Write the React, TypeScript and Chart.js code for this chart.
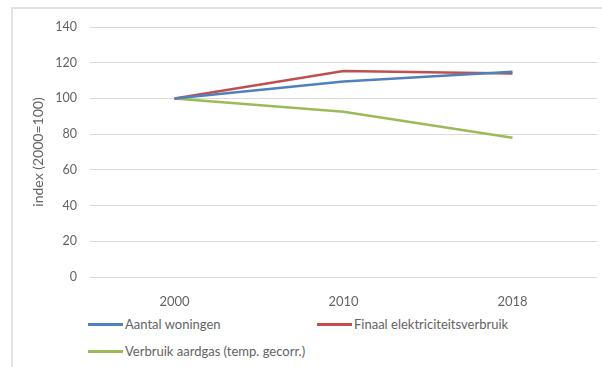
import React, { useEffect, useRef } from "react";
import { Chart, registerables } from "chart.js";

Chart.register(...registerables);

const categories = ["2000", "2010", "2018"];
const aantalWoningen = [100, 109.5, 115];
const finaalElektriciteit = [100, 115.3, 114];
const verbruikAardgas = [100, 92.5, 78];
const yTicks = [0, 20, 40, 60, 80, 100, 120, 140];

const seriesNames = [
  "Aantal woningen",
  "Finaal elektriciteitsverbruik",
  "Verbruik aardgas (temp. gecorr.)",
];
const seriesColors = ["#4F81BD", "#C0504D", "#9BBB59"];

const FONT = "Lato, 'Open Sans', sans-serif";
const TEXT = "#636363";

export default function App() {
  const ref = useRef<HTMLCanvasElement | null>(null);

  useEffect(() => {
    if (!ref.current) return;
    const chart = new Chart(ref.current, {
      type: "line",
      data: {
        labels: categories,
        datasets: [aantalWoningen, finaalElektriciteit, verbruikAardgas].map((d, i) => ({
          label: seriesNames[i],
          data: d,
          borderColor: seriesColors[i],
          backgroundColor: seriesColors[i],
          borderWidth: 2.5,
          pointRadius: 0,
          tension: 0,
          fill: false,
        })),
      },
      options: {
        animation: false,
        responsive: false,
        maintainAspectRatio: false,
        layout: { padding: { left: 27, right: 5, top: 27, bottom: 0 } },
        plugins: { legend: { display: false }, tooltip: { enabled: false } },
        scales: {
          x: {
            offset: true,
            grid: { display: false },
            border: { display: false },
            ticks: { color: TEXT, font: { family: FONT, size: 13 }, padding: 9 },
            afterFit: (s: any) => {
              s.height = 30;
            },
          },
          y: {
            min: 0,
            max: 140,
            afterBuildTicks: (s: any) => {
              s.ticks = yTicks.map((v) => ({ value: v }));
            },
            grid: { color: "#d9d9d9", lineWidth: 1, drawTicks: false },
            border: { display: false },
            ticks: { color: TEXT, font: { family: FONT, size: 12.5 }, padding: 13 },
            title: {
              display: true,
              text: "index (2000=100)",
              color: TEXT,
              font: { family: FONT, size: 14 },
              padding: { top: 3, bottom: 4 },
            },
            afterFit: (s: any) => {
              s.width = 63;
            },
          },
        },
      },
    });
    return () => chart.destroy();
  }, []);

  const legendItem = (i: number, left: number, top: number) => (
    <div
      key={i}
      style={{
        position: "absolute",
        left,
        top,
        display: "flex",
        alignItems: "center",
        fontFamily: FONT,
        fontSize: 13,
        color: TEXT,
        whiteSpace: "nowrap",
      }}
    >
      <span
        style={{
          display: "inline-block",
          width: 35,
          height: 3,
          background: seriesColors[i],
          marginRight: 2,
        }}
      />
      <span>{seriesNames[i]}</span>
    </div>
  );

  return (
    <div
      style={{
        position: "fixed",
        left: 0,
        top: 0,
        width: 602,
        height: 367,
        background: "#fff",
        overflow: "hidden",
      }}
    >
      <div
        style={{
          position: "absolute",
          left: 11,
          top: 7,
          width: 620,
          height: 400,
          borderTop: "2px solid #e2e2e2",
          borderLeft: "2px solid #e2e2e2",
        }}
      />
      <canvas
        ref={ref}
        width={602}
        height={307}
        style={{ position: "absolute", left: 0, top: 0, width: 602, height: 307 }}
      />
      {legendItem(0, 88, 316)}
      {legendItem(1, 317, 316)}
      {legendItem(2, 88, 343)}
    </div>
  );
}
